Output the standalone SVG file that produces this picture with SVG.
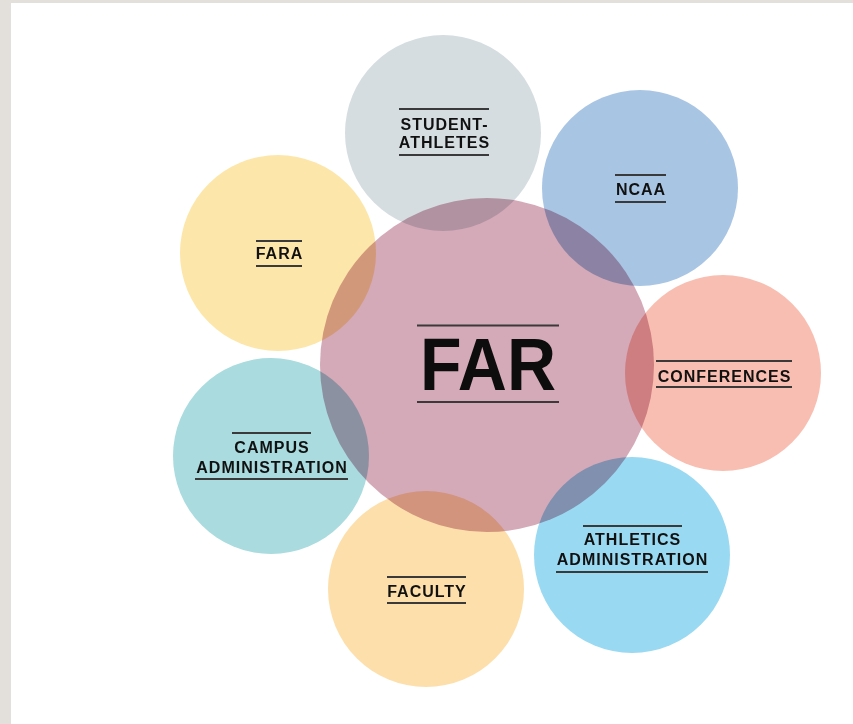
<svg xmlns="http://www.w3.org/2000/svg" width="853" height="724" viewBox="0 0 853 724">
<style>
.c{mix-blend-mode:multiply}
.t{font-family:"Liberation Sans",Arial,sans-serif;font-weight:bold;font-size:16px;letter-spacing:1px;fill:#111;text-anchor:middle}
.r{stroke:#3a3a3a;stroke-width:2}
</style>
<rect x="0" y="0" width="853" height="724" fill="#e3e0dc"/>
<rect x="11" y="3" width="842" height="721" fill="#ffffff"/>
<g id="student-athletes">
<circle class="c" cx="443" cy="133" r="98" fill="#d5dde0"/>
</g>
<g id="ncaa">
<circle class="c" cx="640" cy="188" r="98" fill="#a9c5e4"/>
</g>
<g id="fara">
<circle class="c" cx="278" cy="253" r="98" fill="#fde6a9"/>
</g>
<g id="conferences">
<circle class="c" cx="723" cy="373" r="98" fill="#f8beb1"/>
</g>
<g id="campus-administration">
<circle class="c" cx="271" cy="456" r="98" fill="#a9dbdf"/>
</g>
<g id="faculty">
<circle class="c" cx="426" cy="589" r="98" fill="#fddfac"/>
</g>
<g id="athletics-administration">
<circle class="c" cx="632" cy="555" r="98" fill="#9ad9f2"/>
</g>
<g id="far">
<circle class="c" cx="487" cy="365" r="167" fill="#d4a9b8"/>
</g>
<g id="labels">
<line class="r" x1="399" y1="109" x2="489" y2="109"/>
<text class="t" x="444.5" y="129.5">STUDENT-</text>
<text class="t" x="444.5" y="147.5">ATHLETES</text>
<line class="r" x1="399" y1="155" x2="489" y2="155"/>

<line class="r" x1="615" y1="175" x2="666" y2="175"/>
<text class="t" x="641" y="195">NCAA</text>
<line class="r" x1="615" y1="202" x2="666" y2="202"/>

<line class="r" x1="256" y1="241" x2="302" y2="241"/>
<text class="t" x="279.5" y="259">FARA</text>
<line class="r" x1="256" y1="266" x2="302" y2="266"/>

<line class="r" x1="417" y1="325.5" x2="559" y2="325.5"/>
<text x="488" y="390" font-family="Liberation Sans,Arial,sans-serif" font-weight="bold" font-size="74" fill="#0d0d0d" text-anchor="middle" textLength="136" lengthAdjust="spacingAndGlyphs">FAR</text>
<line class="r" x1="417" y1="402" x2="559" y2="402"/>

<line class="r" x1="656" y1="361" x2="792" y2="361"/>
<text class="t" x="724.5" y="382">CONFERENCES</text>
<line class="r" x1="656" y1="387" x2="792" y2="387"/>

<line class="r" x1="232" y1="433" x2="311" y2="433"/>
<text class="t" x="272" y="453">CAMPUS</text>
<text class="t" x="272" y="473">ADMINISTRATION</text>
<line class="r" x1="195" y1="479" x2="348" y2="479"/>

<line class="r" x1="583" y1="526" x2="682" y2="526"/>
<text class="t" x="632.5" y="545">ATHLETICS</text>
<text class="t" x="632.5" y="565">ADMINISTRATION</text>
<line class="r" x1="556" y1="572" x2="708" y2="572"/>

<line class="r" x1="387" y1="577" x2="466" y2="577"/>
<text class="t" x="427" y="597">FACULTY</text>
<line class="r" x1="387" y1="603" x2="466" y2="603"/>
</g>
</svg>
